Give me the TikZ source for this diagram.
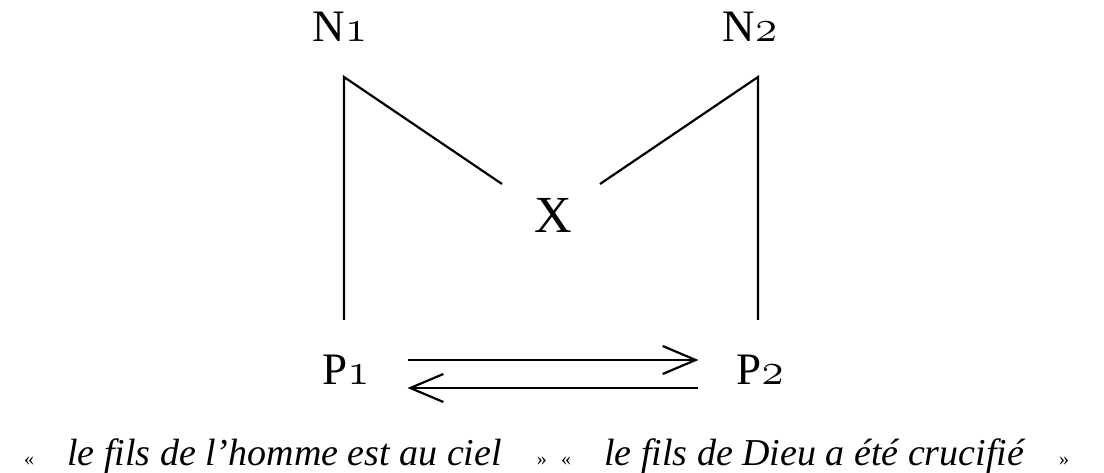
\RequirePackage{fix-cm}
\documentclass[tikz,border=0pt]{standalone}
\usepackage{fontspec}
\setmainfont{Liberation Serif}
\usetikzlibrary{arrows.meta}
\newcommand{\osnum}[1]{{\usefont{OML}{cmm}{m}{it}#1}}
\newcommand{\guil}[1]{{\fontsize{20}{20}\selectfont\upshape #1}}

\begin{document}
\begin{tikzpicture}[x=1pt,y=-1pt,line width=2.2pt,
    >={Straight Barb[length=33pt,width=28pt,line width=2.2pt]},
    lbl/.style={font=\fontsize{45}{45}\selectfont,inner sep=0pt},
    phrase/.style={font=\fontsize{38}{38}\selectfont\itshape,inner sep=0pt,anchor=base west}]
        \useasboundingbox (0,0) rectangle (1104,473);
        \node[lbl] (N1) at (340,27) {N\osnum{1}};
        \node[lbl] (N2) at (750,27) {N\osnum{2}};
        \node[lbl,font=\fontsize{52}{52}\selectfont] (X) at (553,215) {X};
        \node[lbl,outer xsep=38pt] (P1) at (346,370) {P\osnum{1}};
        \node[lbl,outer xsep=38pt] (P2) at (760,370) {P\osnum{2}};
        % corners and free ends of the lines
        \coordinate (n1c) at (344,77); \coordinate (p1c) at (344,320); \coordinate (xl) at (502,184);
        \coordinate (n2c) at (758,77); \coordinate (p2c) at (758,320); \coordinate (xr) at (600,184);
        \draw (p1c) -- (n1c) -- (xl);
        \draw (p2c) -- (n2c) -- (xr);
        \draw[->] ([yshift=10pt]P1.east) -- ([yshift=10pt]P2.west);
        \draw[->] ([yshift=-18pt]P2.west) -- ([yshift=-18pt]P1.east);
        \node[phrase] (q1) at (23,465) {\guil{«}\hspace{33pt}le fils de l’homme est au ciel\hspace{35pt}\guil{»}};
        \node[phrase] (q2) at (560,465) {\guil{«}\hspace{33pt}le fils de Dieu a été crucifié\hspace{35pt}\guil{»}};
      \end{tikzpicture}
\end{document}
